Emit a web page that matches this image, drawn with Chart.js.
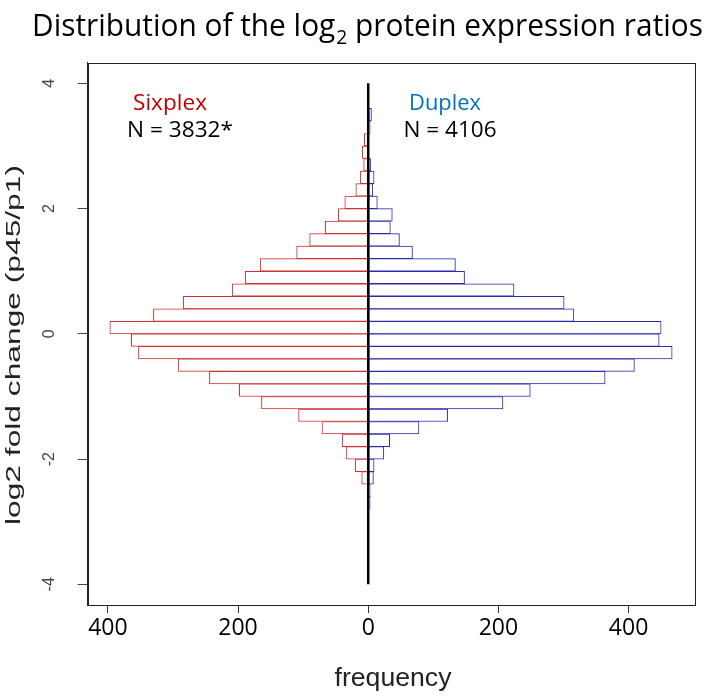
<!DOCTYPE html>
<html>
<head>
<meta charset="utf-8">
<script src="https://cdn.jsdelivr.net/npm/chart.js@4.4.1/dist/chart.umd.min.js"></script>
<style>
  html, body { margin: 0; padding: 0; background: #fff; }
  #chart { display: block; }
</style>
</head>
<body>
<canvas id="chart" width="705" height="697"></canvas>
<script>
// histogram bins of log2 fold change, 0.2 wide, given by their centres
const binCenters = [3.5, 3.3, 3.1, 2.9, 2.7, 2.5, 2.3, 2.1, 1.9, 1.7, 1.5, 1.3, 1.1, 0.9, 0.7, 0.5,
    0.3, 0.1, -0.1, -0.3, -0.5, -0.7, -0.9, -1.1, -1.3, -1.5, -1.7, -1.9, -2.1, -2.3, -2.5, -2.7];

// counts per bin (sixplex drawn to the left, duplex to the right)
const sixplexCounts = [0, 0, 6, 9, 7, 12, 19, 36, 46, 66, 90, 110, 166, 189, 209, 284,
    330, 397, 364, 353, 292, 244, 198, 164, 107, 71, 40, 34, 20, 10, 0, 0];
const duplexCounts = [5, 3, 1, 1, 4, 9, 7, 14, 37, 34, 48, 68, 134, 148, 224, 301,
    316, 450, 447, 467, 409, 364, 249, 207, 122, 78, 33, 24, 9, 8, 3, 3];

const xTicks = [-400, -200, 0, 200, 400];
const yTicks = [-4, -2, 0, 2, 4];
const zeroLineRange = [-4, 4];

const titleParts = ['Distribution of the log', '2', ' protein expression ratios'];
const xTitle = 'frequency';
const yTitle = 'log2 fold change (p45/p1)';
const sixplexLabel = 'Sixplex';
const sixplexN = 'N = 3832*';
const duplexLabel = 'Duplex';
const duplexN = 'N = 4106';

// text squeezed/stretched to a given width, like the original figure
function fitText(ctx, text, font, color, x, y, width, rotate) {
    ctx.save();
    ctx.font = font;
    const w = ctx.measureText(text).width;
    ctx.translate(x, y);
    if (rotate) ctx.rotate(rotate);
    ctx.scale(width / w, 1);
    ctx.fillStyle = color;
    ctx.textAlign = 'center';
    ctx.textBaseline = 'alphabetic';
    ctx.fillText(text, 0, 0);
    ctx.restore();
}

const framePlugin = {
    id: 'frame',
    afterDraw(chart) {
        const { ctx, chartArea: a } = chart;
        ctx.save();
        ctx.strokeStyle = '#222';
        ctx.lineWidth = 1;
        ctx.strokeRect(Math.round(a.left) + 0.5, Math.round(a.top) + 0.5,
            Math.round(a.right - a.left), Math.round(a.bottom - a.top));
        ctx.restore();
    }
};

const textPlugin = {
    id: 'texts',
    afterDraw(chart) {
        const ctx = chart.ctx;

        // title with subscript 2
        const main = '31px "Open Sans"';
        const sub = '20px "Open Sans"';
        ctx.save();
        ctx.font = main;
        const wa = ctx.measureText(titleParts[0]).width;
        const wc = ctx.measureText(titleParts[2]).width;
        ctx.font = sub;
        const wb = ctx.measureText(titleParts[1]).width;
        const s = 670 / (wa + wb + wc);
        ctx.translate(32, 36);
        ctx.scale(s, 1);
        ctx.fillStyle = '#000';
        ctx.textAlign = 'left';
        ctx.textBaseline = 'alphabetic';
        ctx.font = main;
        ctx.fillText(titleParts[0], 0, 0);
        ctx.font = sub;
        ctx.fillText(titleParts[1], wa + 1, 8);
        ctx.font = main;
        ctx.fillText(titleParts[2], wa + wb + 1, 0);
        ctx.restore();

        fitText(ctx, sixplexLabel, '21px "Open Sans"', '#c00000', 170, 110, 74);
        fitText(ctx, sixplexN, '22px "Open Sans"', '#000', 180, 137, 106);
        fitText(ctx, duplexLabel, '21px "Open Sans"', '#0070c0', 445, 110, 72);
        fitText(ctx, duplexN, '22px "Open Sans"', '#000', 450, 137, 93);

        fitText(ctx, xTitle, '25px "Liberation Sans"', '#222', 393, 686, 117);
        fitText(ctx, yTitle, '21px "Liberation Sans"', '#222', 20, 345, 360, -Math.PI / 2);
    }
};

const ctx = document.getElementById('chart').getContext('2d');
new Chart(ctx, {
    type: 'bar',
    data: {
        datasets: [
            {
                type: 'line',
                label: 'zero',
                data: zeroLineRange.map(y => ({ x: 0, y: y })),
                borderColor: '#000',
                borderWidth: 2.5,
                pointRadius: 0,
                order: 0
            },
            {
                label: sixplexLabel,
                data: binCenters.map((y, i) => ({ y: y, x: sixplexCounts[i] ? -sixplexCounts[i] : null })),
                backgroundColor: '#fff',
                borderColor: '#cc3030',
                borderWidth: 1,
                borderSkipped: false,
                order: 1
            },
            {
                label: duplexLabel,
                data: binCenters.map((y, i) => ({ y: y, x: duplexCounts[i] ? duplexCounts[i] : null })),
                backgroundColor: '#fff',
                borderColor: '#2b2ba8',
                borderWidth: 1,
                borderSkipped: false,
                order: 2
            }
        ]
    },
    options: {
        indexAxis: 'y',
        responsive: false,
        animation: false,
        devicePixelRatio: 1,
        layout: { padding: { top: 62.7, right: 10.7, left: 0, bottom: 0 } },
        datasets: { bar: { grouped: false, barPercentage: 1, categoryPercentage: 1 } },
        plugins: { legend: { display: false }, tooltip: { enabled: false } },
        scales: {
            x: {
                type: 'linear',
                min: -431,
                max: 501,
                afterBuildTicks(scale) {
                    scale.ticks = xTicks.map(v => ({ value: v }));
                },
                afterFit(scale) { scale.height = 92; },
                ticks: {
                    callback: v => String(Math.abs(v)),
                    font: { family: 'Open Sans', size: 23 },
                    color: '#000',
                    padding: 2,
                    maxRotation: 0
                },
                grid: { drawOnChartArea: false, tickLength: 8, color: '#333' },
                border: { color: '#222' }
            },
            y: {
                type: 'linear',
                min: -4.33,
                max: 4.33,
                offset: false,
                afterBuildTicks(scale) {
                    scale.ticks = yTicks.map(v => ({ value: v }));
                },
                afterFit(scale) { scale.width = 87.7; },
                ticks: {
                    minRotation: 90,
                    maxRotation: 90,
                    crossAlign: 'center',
                    padding: 21,
                    font: { family: 'Liberation Sans', size: 16 },
                    color: '#444'
                },
                grid: { offset: false, drawOnChartArea: false, tickLength: 10, color: '#444' },
                border: { color: '#222' }
            }
        }
    },
    plugins: [framePlugin, textPlugin]
});
</script>
</body>
</html>
